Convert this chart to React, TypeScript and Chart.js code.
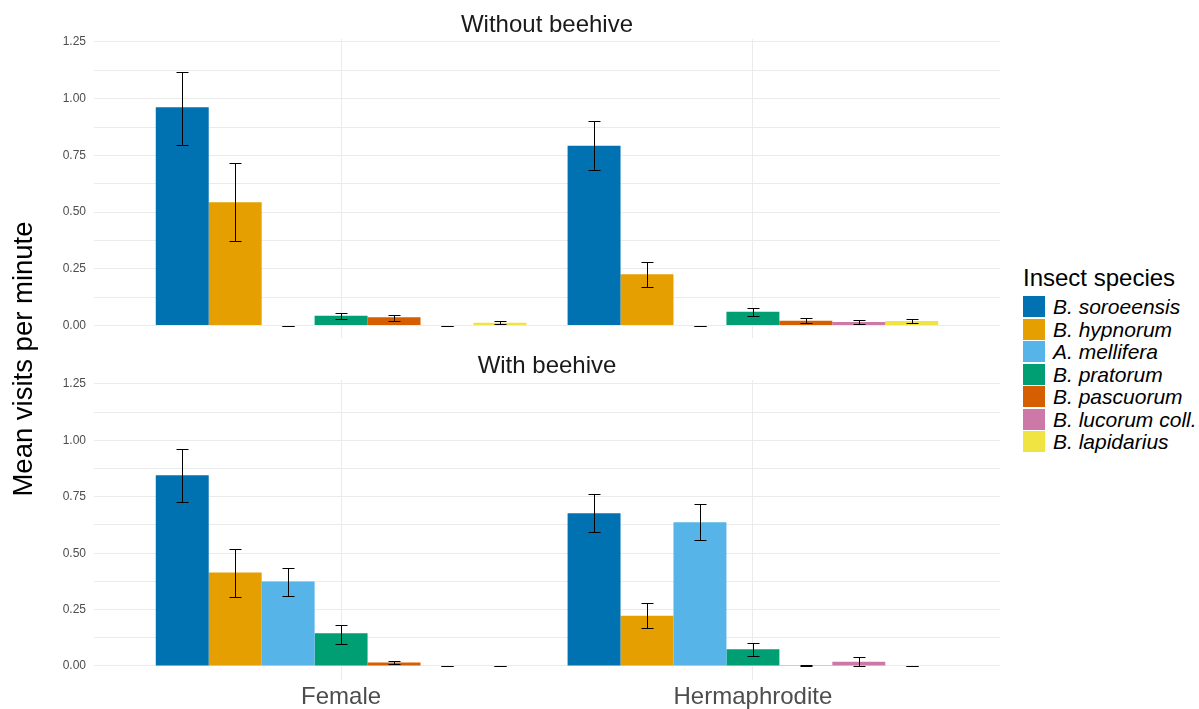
import React, { useEffect, useRef } from 'react';
import { Chart, registerables } from 'chart.js';

Chart.register(...registerables);

const categories = ['Female', 'Hermaphrodite'];
const species = ['B. soroeensis', 'B. hypnorum', 'A. mellifera', 'B. pratorum', 'B. pascuorum', 'B. lucorum coll.', 'B. lapidarius'];
const speciesColors = ['#0072B2', '#E69F00', '#56B4E9', '#009E73', '#D55E00', '#CC79A7', '#F0E442'];
const yTickValues = [0, 0.125, 0.25, 0.375, 0.5, 0.625, 0.75, 0.875, 1, 1.125, 1.25];

// Without beehive (per species, in legend order)
const withoutFemaleMean = [0.962, 0.543, 0, 0.043, 0.036, 0, 0.012];
const withoutFemaleLow = [0.797, 0.371, 0, 0.029, 0.02, 0, 0.007];
const withoutFemaleHigh = [1.118, 0.718, 0, 0.055, 0.046, 0, 0.018];
const withoutHermMean = [0.793, 0.226, 0, 0.061, 0.021, 0.015, 0.02];
const withoutHermLow = [0.684, 0.17, 0, 0.042, 0.01, 0.007, 0.01];
const withoutHermHigh = [0.903, 0.279, 0, 0.078, 0.034, 0.026, 0.03];

// With beehive
const withFemaleMean = [0.845, 0.414, 0.374, 0.145, 0.016, 0, 0];
const withFemaleLow = [0.726, 0.306, 0.31, 0.099, 0.008, 0, 0];
const withFemaleHigh = [0.963, 0.517, 0.434, 0.183, 0.024, 0, 0];
const withHermMean = [0.677, 0.223, 0.637, 0.074, 0.003, 0.019, 0];
const withHermLow = [0.593, 0.17, 0.557, 0.046, 0.001, 0.001, 0];
const withHermHigh = [0.761, 0.281, 0.717, 0.103, 0.005, 0.038, 0];

const FONT = '"Liberation Sans", Arial, Helvetica, sans-serif';

function errorBarPlugin(lows: number[][], highs: number[][]) {
  return {
    id: 'errorBars',
    afterDatasetsDraw(chart: any) {
      const ctx = chart.ctx;
      const yScale = chart.scales.y;
      ctx.save();
      ctx.strokeStyle = '#000000';
      ctx.lineWidth = 1;
      chart.data.datasets.forEach((_ds: any, s: number) => {
        const meta = chart.getDatasetMeta(s);
        meta.data.forEach((bar: any, ci: number) => {
          const x = Math.round(bar.x) + 0.5;
          const yl = Math.round(yScale.getPixelForValue(lows[ci][s])) + 0.5;
          const yh = Math.round(yScale.getPixelForValue(highs[ci][s])) + 0.5;
          const hw = 6;
          ctx.beginPath();
          ctx.moveTo(x, yh);
          ctx.lineTo(x, yl);
          ctx.moveTo(x - hw, yh);
          ctx.lineTo(x + hw, yh);
          ctx.moveTo(x - hw, yl);
          ctx.lineTo(x + hw, yl);
          ctx.stroke();
        });
      });
      ctx.restore();
    },
  };
}

type PanelProps = {
  means: number[][];
  lows: number[][];
  highs: number[][];
  showX: boolean;
  yMin: number;
  yMax: number;
  padTop: number;
  xHeight: number;
  width: number;
  height: number;
  top: number;
};

function Panel(p: PanelProps) {
  const ref = useRef<HTMLCanvasElement | null>(null);
  useEffect(() => {
    if (!ref.current) return;
    const datasets = species.map((name, s) => ({
      label: name,
      data: categories.map((_c, ci) => ({ x: ci + 1, y: p.means[ci][s] })),
      backgroundColor: speciesColors[s],
      borderWidth: 0,
      categoryPercentage: 0.9,
      barPercentage: 1.0,
    }));
    const chart = new Chart(ref.current, {
      type: 'bar',
      data: { datasets } as any,
      plugins: [errorBarPlugin(p.lows, p.highs)],
      options: {
        animation: false,
        responsive: false,
        maintainAspectRatio: false,
        devicePixelRatio: 1,
        layout: { padding: { top: p.padTop, right: 0, bottom: 0, left: 0 } },
        plugins: { legend: { display: false }, tooltip: { enabled: false } },
        scales: {
          x: {
            type: 'linear',
            min: 0.4,
            max: 2.6,
            offset: false,
            afterBuildTicks: (s: any) => {
              s.ticks = [{ value: 1 }, { value: 2 }];
            },
            afterFit: (s: any) => {
              s.height = p.xHeight;
            },
            ticks: {
              display: p.showX,
              autoSkip: false,
              maxRotation: 0,
              padding: 3,
              color: '#4d4d4d',
              font: { family: FONT, size: 24 },
              callback: (v: any) => categories[Math.round(Number(v)) - 1] ?? '',
            },
            grid: { color: '#ebebeb', drawTicks: false, lineWidth: 1, offset: false },
            border: { display: false },
          },
          y: {
            type: 'linear',
            min: p.yMin,
            max: p.yMax,
            afterBuildTicks: (s: any) => {
              s.ticks = yTickValues.map((v) => ({ value: v }));
            },
            afterFit: (s: any) => {
              s.width = 94;
            },
            ticks: {
              padding: 8,
              color: '#4d4d4d',
              font: { family: FONT, size: 12 },
              callback: (v: any) => {
                const n = Number(v);
                return Math.abs(n * 4 - Math.round(n * 4)) < 1e-9 ? n.toFixed(2) : '';
              },
            },
            grid: { color: '#ebebeb', drawTicks: false, lineWidth: 1 },
            border: { display: false },
          },
        },
      } as any,
    });
    return () => chart.destroy();
  }, []);
  return (
    <canvas
      ref={ref}
      width={p.width}
      height={p.height}
      style={{ position: 'absolute', left: 0, top: p.top, width: p.width, height: p.height }}
    />
  );
}

export default function App() {
  useEffect(() => {
    document.body.style.margin = '0';
  }, []);
  const stripStyle: React.CSSProperties = {
    position: 'absolute',
    left: 94,
    width: 906,
    textAlign: 'center',
    fontFamily: FONT,
    fontSize: 24,
    color: '#1a1a1a',
    lineHeight: '26px',
    height: 26,
    whiteSpace: 'nowrap',
  };
  return (
    <div style={{ position: 'relative', width: 1199, height: 709, background: '#ffffff', overflow: 'hidden' }}>
      <Panel
        means={[withoutFemaleMean, withoutHermMean]}
        lows={[withoutFemaleLow, withoutHermLow]}
        highs={[withoutFemaleHigh, withoutHermHigh]}
        showX={false}
        yMin={-0.0551}
        yMax={1.2632}
        padTop={39}
        xHeight={22}
        width={1000}
        height={360}
        top={0}
      />
      <Panel
        means={[withFemaleMean, withHermMean]}
        lows={[withFemaleLow, withHermLow]}
        highs={[withFemaleHigh, withHermHigh]}
        showX={true}
        yMin={-0.0621}
        yMax={1.2677}
        padTop={35}
        xHeight={29}
        width={1000}
        height={364}
        top={345}
      />
      <div style={{ ...stripStyle, top: 11 }}>Without beehive</div>
      <div style={{ ...stripStyle, top: 352 }}>With beehive</div>
      <div
        style={{
          position: 'absolute',
          left: 23 - 200,
          top: 359 - 16,
          width: 400,
          height: 32,
          lineHeight: '32px',
          textAlign: 'center',
          fontFamily: FONT,
          fontSize: 27.5,
          color: '#000000',
          transform: 'rotate(-90deg)',
          whiteSpace: 'nowrap',
        }}
      >
        Mean visits per minute
      </div>
      <div
        style={{
          position: 'absolute',
          left: 1023,
          top: 264,
          height: 28,
          lineHeight: '28px',
          fontFamily: FONT,
          fontSize: 24,
          color: '#000000',
          whiteSpace: 'nowrap',
        }}
      >
        Insect species
      </div>
      {species.map((name, i) => (
        <div key={name}>
          <div
            style={{
              position: 'absolute',
              left: 1023,
              top: Math.round(296 + 22.5 * i),
              width: 22,
              height: 21,
              background: speciesColors[i],
            }}
          />
          <div
            style={{
              position: 'absolute',
              left: 1053,
              top: Math.round(295 + 22.5 * i),
              height: 24,
              lineHeight: '24px',
              fontFamily: FONT,
              fontSize: 21,
              fontStyle: 'italic',
              color: '#000000',
              whiteSpace: 'nowrap',
            }}
          >
            {name}
          </div>
        </div>
      ))}
    </div>
  );
}
